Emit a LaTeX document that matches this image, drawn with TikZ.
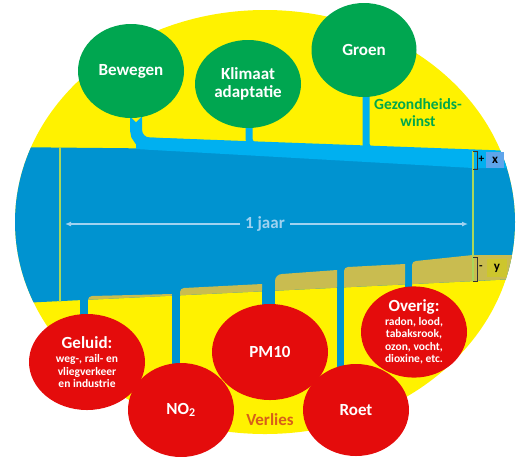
\documentclass[tikz,border=0pt]{standalone}
\usepackage{fontspec}
\setmainfont{Carlito}
\usetikzlibrary{shapes.geometric,arrows.meta}
\definecolor{geel}{RGB}{255,242,0}
\definecolor{band}{RGB}{0,147,208}
\definecolor{winstblauw}{RGB}{0,176,240}
\definecolor{khaki}{RGB}{201,188,80}
\definecolor{groen}{RGB}{0,166,80}
\definecolor{rood}{RGB}{228,12,12}
\definecolor{lijngroen}{RGB}{170,215,90}
\definecolor{pijlblauw}{RGB}{160,210,240}
\definecolor{xblauw}{RGB}{95,165,235}
\definecolor{ygeel}{RGB}{205,198,45}
\definecolor{groentekst}{RGB}{0,168,75}
\definecolor{verliestekst}{RGB}{215,95,25}
\newcommand\groot{\fontsize{17}{18}\selectfont\bfseries}
\newcommand\klein{\fontsize{11.5}{12.5}\selectfont\bfseries}
\tikzset{
  winst/.style={ellipse, fill=groen, text=white, inner sep=0pt, align=center, font=\groot},
  verlies/.style={ellipse, fill=rood, text=white, inner sep=0pt, align=center, font=\groot},
  grens/.style={lijngroen, line width=1.2pt},
  maat/.style={pijlblauw, line width=1.2pt, -{Latex[length=6pt,width=5pt]}},
  klammer/.style={black!80, line width=0.6pt}
}
\begin{document}
\begin{tikzpicture}[x=1pt, y=-1pt]
  \useasboundingbox (0,0) rectangle (516,456);
  % gelbe Ellipse
  \fill[geel] (265,222) ellipse [x radius=250, y radius=212];
  \begin{scope}
    \clip (265,222) ellipse [x radius=250, y radius=212];
    % Band (1 Jahr)
    \fill[band] (0,147) -- (516,152) -- (516,279) -- (0,304) -- cycle;
    % Gewinn-Keil oben
    \fill[winstblauw] (136,137) -- (516,151) -- (516,168) -- (473,168) -- (136,149) -- cycle;
    % Verlust-Segmente unten (zwischen den Abfluessen)
    \foreach \l/\r/\tl/\tr/\rad in {88/172/296/294/4, 180/262/288/284/4, 275/337/274/270/7, 344/405/267/264/4, 412/473/261/255/4}{
      \fill[khaki] (\l,{304-0.0484*\l}) -- (\l,\tl+\rad) arc[start angle=180, end angle=270, radius=\rad] -- (\r,\tr) -- (\r,{304-0.0484*\r}) -- cycle;
    }
    \fill[khaki] (473,255) -- (516,255) -- (516,279) -- (473,281) -- cycle;
  \end{scope}
  % Zufluesse oben
  \draw[winstblauw, line width=12, rounded corners=13] (136,110) -- (136,143) -- (200,145.7);
  \draw[winstblauw, line width=7, rounded corners=7] (249,122) -- (249,145.5) -- (290,147.2);
  \draw[winstblauw, line width=7, rounded corners=7] (366,90) -- (366,150.2) -- (400,151.6);
  \fill[geel] (131,117) -- (141,117) -- (136,122) -- cycle;
  % Abfluesse unten
  \foreach \x/\w/\a/\b in {84/8/298/322, 176/8/294/372, 268.5/13/290/312, 340.5/7/287/372, 408.5/7/284/292}{
    \draw[band, line width=\w] (\x,\a) -- (\x,\b);
  }
  % Zeitgrenzen
  \draw[grens] (60,147) -- (60,302);
  \draw[grens] (473,151) -- (473,281);
  % Massangabe
  \node[fill=band, text=pijlblauw, font=\groot, inner xsep=5pt] (jaar) at (265,224) {1 jaar};
  \coordinate (links) at (65,224);
  \coordinate (rechts) at (468,224);
  \draw[maat] (jaar.west) -- (links);
  \draw[maat] (jaar.east) -- (rechts);
  % Klammern x und y
  \draw[klammer] (473,151) -- (477,151) -- (477,169) -- (473,169);
  \node[font=\klein, inner sep=0pt] (plus) at (481.5,159.5) {+};
  \node[fill=xblauw, minimum width=18pt, minimum height=16pt, inner sep=0pt, font=\fontsize{13}{13}\selectfont\bfseries] (xwaarde) at (495,160) {x};
  \draw[klammer] (473,257) -- (477,257) -- (477,281) -- (473,281);
  \node[font=\klein, inner sep=0pt] (min) at (481,268) {-};
  \node[fill=ygeel, minimum width=20pt, minimum height=18pt, inner sep=0pt, font=\fontsize{13}{13}\selectfont\bfseries] (ywaarde) at (497,268) {y};
  % Gezondheidswinst
  \node[winst, minimum width=106pt, minimum height=94pt] (bewegen) at (131,71) {Bewegen};
  \node[winst, minimum width=106pt, minimum height=88pt] (klimaat) at (248,84) {Klimaat\\adaptatie};
  \node[winst, minimum width=105pt, minimum height=94pt] (groen) at (364,50) {Groen};
  \node[text=groentekst, font=\fontsize{15.5}{17}\selectfont\bfseries, align=center] (gezond) at (418,113) {Gezondheids-\\winst};
  % Verlies
  \node[verlies, minimum width=116pt, minimum height=96pt, font=\klein] (geluid) at (87,362) {{\groot Geluid:}\\[2pt]weg-, rail- en\\vliegverkeer\\en industrie};
  \node[verlies, minimum width=106pt, minimum height=94pt] (no2) at (181,410) {NO\textsubscript{2}};
  \node[verlies, minimum width=116pt, minimum height=96pt] (pm10) at (270,352) {PM10};
  \node[verlies, minimum width=106pt, minimum height=92pt] (roet) at (356,410) {Roet};
  \node[verlies, minimum width=106pt, minimum height=90pt, font=\klein] (overig) at (414,332) {{\groot Overig:}\\[1pt]radon, lood,\\tabaksrook,\\ozon, vocht,\\dioxine, etc.};
  \node[text=verliestekst, font=\groot] (verliestxt) at (270,420) {Verlies};
\end{tikzpicture}
\end{document}
